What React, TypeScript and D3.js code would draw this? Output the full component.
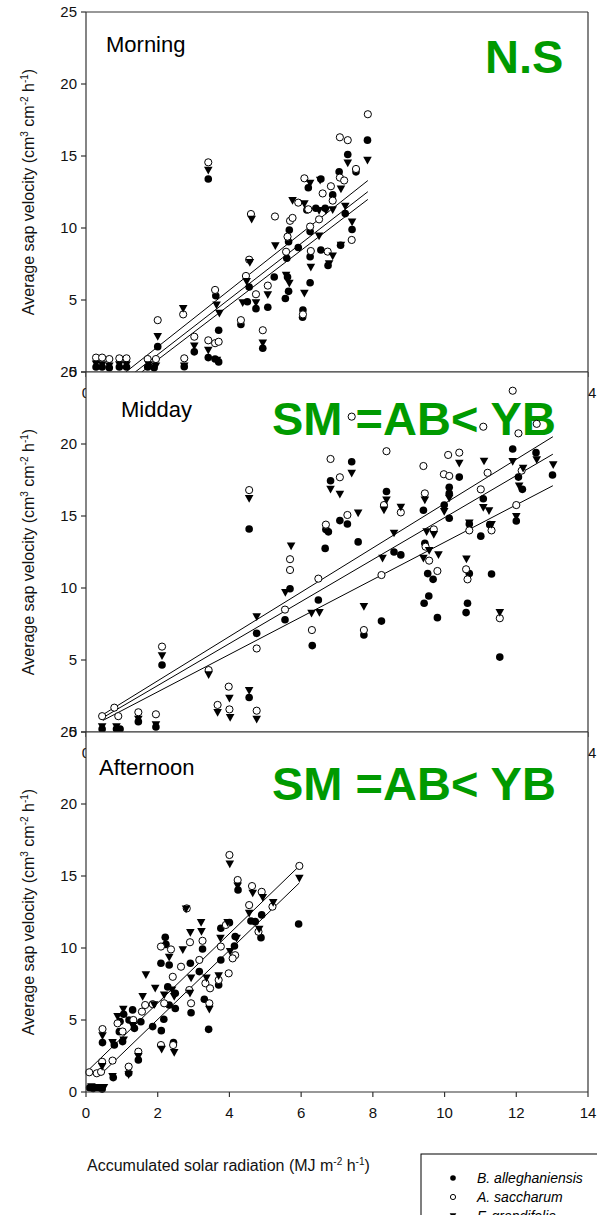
import React from "react";
import * as d3 from "d3";

type Pt = [number, number];
type Fit = { slope: number; intercept: number; x0: number; x1: number };

// ---------- data ----------
const xTicks = [0, 2, 4, 6, 8, 10, 12, 14];
const yTicks = [0, 5, 10, 15, 20, 25];
const speciesNames = ["B. alleghaniensis", "A. saccharum", "F. grandifolia"];
const panelTitles = ["Morning", "Midday", "Afternoon"];
const panelSignif = ["N.S", "SM =AB< YB", "SM =AB< YB"];

const morningYB: Pt[] = [[0.28,0.35],[0.45,0.35],[0.65,0.3],[0.93,0.35],[1.13,0.35],[1.72,0.35],[1.9,0.3],[2.0,1.76],[2.74,0.37],[3.02,1.4],[3.41,13.4],[3.41,1.0],[3.6,0.9],[3.7,0.7],[3.62,5.3],[3.7,2.9],[4.32,3.3],[4.55,5.9],[4.5,4.88],[4.74,4.4],[4.93,1.65],[5.07,4.5],[5.25,6.6],[5.6,7.9],[5.62,6.6],[5.65,5.6],[5.56,5.1],[5.67,9.86],[5.65,9.05],[5.92,8.65],[6.05,4.3],[6.04,3.8],[6.25,6.2],[6.25,8.0],[6.2,12.8],[6.55,13.4],[6.16,11.25],[6.41,11.37],[6.25,9.75],[6.55,8.47],[6.67,11.37],[6.75,7.4],[6.88,12.3],[7.85,16.1],[7.3,15.1],[7.53,13.9],[7.06,13.9],[7.23,11.0],[7.42,9.9],[7.1,8.8]];
const morningSM: Pt[] = [[0.28,1.0],[0.45,1.0],[0.65,0.9],[0.93,0.95],[1.13,0.95],[1.72,0.9],[1.95,0.9],[2.0,3.6],[2.71,4.0],[2.74,0.95],[3.02,2.45],[3.41,14.56],[3.41,2.2],[3.6,2.0],[3.7,2.1],[3.6,5.7],[4.32,3.6],[4.6,10.97],[4.55,7.8],[4.46,6.67],[4.74,5.4],[4.93,2.9],[5.07,6.0],[5.27,10.8],[5.58,8.35],[5.62,9.4],[5.69,10.5],[5.76,10.7],[5.92,11.76],[6.05,4.0],[6.27,8.4],[6.09,13.45],[6.6,12.4],[6.2,11.3],[6.25,10.1],[6.5,10.6],[6.74,8.36],[6.83,12.9],[6.88,11.9],[7.08,16.3],[7.3,16.1],[7.53,14.1],[7.08,13.5],[7.2,13.3],[7.41,9.17],[7.86,17.9]];
const morningAB: Pt[] = [[0.28,0.55],[0.45,0.5],[0.65,0.4],[0.93,0.5],[1.13,0.5],[1.75,0.5],[1.95,0.4],[2.0,2.45],[2.71,4.4],[2.74,0.4],[3.02,1.8],[3.41,14.0],[3.41,1.5],[3.65,0.8],[3.72,4.07],[3.64,4.65],[4.62,10.6],[4.57,7.6],[4.48,6.27],[4.37,4.8],[4.74,4.8],[4.93,2.0],[5.07,5.35],[5.28,8.75],[5.58,6.7],[5.67,6.15],[5.76,11.9],[6.09,11.67],[6.09,5.46],[6.25,13.1],[6.5,11.2],[6.5,9.44],[6.27,7.27],[6.88,8.05],[6.78,7.5],[6.88,11.25],[7.85,14.7],[7.3,14.5],[7.11,12.7],[7.23,11.5],[7.42,10.4],[7.11,8.8],[6.69,11.2],[6.53,13.3]];

const middayYB: Pt[] = [[0.45,0.2],[0.85,0.2],[0.95,0.2],[1.46,0.72],[1.95,0.35],[2.12,4.65],[4.55,14.1],[4.55,2.4],[4.76,6.85],[5.69,9.95],[5.55,7.8],[6.48,9.17],[6.31,6.0],[7.41,18.77],[6.82,17.45],[6.69,14.07],[6.76,13.9],[6.67,12.75],[7.08,14.68],[7.29,14.44],[7.59,13.2],[7.75,6.74],[8.24,7.7],[8.38,16.7],[8.59,12.5],[8.78,12.3],[9.41,15.4],[9.45,13.1],[9.53,11.0],[9.68,10.6],[9.56,9.44],[9.43,8.94],[9.8,7.94],[10.41,17.7],[10.13,17.0],[10.13,16.57],[9.99,15.76],[10.13,14.84],[10.69,14.44],[11.01,13.6],[11.26,14.4],[10.69,11.0],[11.31,10.97],[10.64,8.94],[10.6,8.29],[11.54,5.2],[11.08,16.2],[11.9,19.65],[12.06,17.7],[12.17,16.85],[12.0,14.65],[12.55,19.4],[13.01,17.85]];
const middaySM: Pt[] = [[0.45,1.1],[0.79,1.69],[0.9,1.1],[1.46,1.37],[1.95,1.23],[2.12,5.93],[3.42,4.3],[3.67,1.88],[3.98,3.15],[4.0,1.57],[4.55,16.8],[4.76,1.48],[4.76,5.8],[5.69,12.0],[5.69,11.25],[5.55,8.5],[6.48,10.65],[6.3,7.08],[6.82,18.96],[7.08,17.69],[7.41,21.9],[6.69,14.4],[7.29,15.07],[7.75,7.08],[8.38,19.5],[8.31,15.76],[8.24,10.9],[8.78,15.25],[9.41,18.47],[9.45,16.57],[9.47,12.87],[9.8,11.18],[9.57,11.9],[9.7,14.07],[10.1,19.24],[10.41,19.4],[9.98,17.9],[10.13,17.78],[11.08,21.2],[11.9,23.7],[12.06,20.74],[12.57,21.4],[11.2,18.0],[11.01,16.85],[10.69,14.0],[11.31,14.0],[10.6,11.3],[10.64,10.6],[11.54,7.9],[12.0,15.76],[12.15,18.15]];
const middayAB: Pt[] = [[0.45,0.35],[0.85,0.35],[1.46,0.88],[1.95,0.5],[2.12,5.28],[3.42,3.96],[3.67,1.34],[4.0,2.34],[4.02,1.0],[4.55,16.2],[4.55,2.87],[4.76,0.88],[4.76,8.0],[5.72,12.9],[5.56,9.68],[6.29,8.24],[6.51,8.29],[6.82,16.85],[7.41,17.96],[7.08,16.5],[7.59,15.2],[7.75,8.7],[8.38,16.1],[8.31,15.4],[8.59,13.8],[8.27,12.06],[8.78,15.6],[9.45,16.1],[9.41,12.06],[9.57,12.6],[9.5,13.9],[9.7,13.7],[9.83,12.3],[10.41,18.66],[10.13,16.23],[9.99,15.3],[11.1,18.8],[11.08,15.58],[11.24,15.35],[10.69,14.5],[11.31,14.4],[10.61,12.0],[11.54,8.29],[11.9,18.77],[12.08,17.08],[12.0,14.95],[12.57,18.9],[12.19,18.3],[13.03,18.54]];

const afternoonYB: Pt[] = [[0.1,0.3],[0.2,0.25],[0.35,0.3],[0.45,0.2],[0.46,3.43],[0.76,1.0],[0.79,3.26],[0.93,4.19],[1.02,3.5],[1.3,5.7],[1.35,4.42],[1.19,1.3],[1.46,2.22],[1.53,4.88],[1.86,4.54],[2.1,4.26],[2.17,5.05],[2.09,8.94],[2.21,10.74],[2.23,10.25],[2.32,8.82],[2.28,7.3],[2.49,6.85],[2.49,5.8],[2.32,6.04],[2.44,3.43],[2.91,8.94],[2.93,5.5],[3.25,9.93],[3.16,8.36],[3.3,6.44],[3.42,4.35],[3.7,7.43],[3.76,9.17],[3.76,11.37],[4.0,11.76],[4.14,10.14],[4.16,10.79],[4.24,14.03],[4.6,11.87],[4.72,11.83],[4.9,12.3],[4.88,10.72],[5.93,11.67],[1.2,5.0],[0.95,4.9],[1.05,5.4]];
const afternoonSM: Pt[] = [[0.09,1.37],[0.3,1.3],[0.42,1.4],[0.45,2.1],[0.46,4.37],[0.74,2.18],[0.88,4.77],[1.02,4.2],[1.32,5.0],[1.19,1.76],[1.46,2.8],[1.56,5.58],[1.65,6.04],[1.86,6.1],[2.09,3.26],[2.18,6.16],[2.09,10.1],[2.37,9.9],[2.42,8.0],[2.43,3.26],[2.65,8.7],[2.81,12.75],[2.9,10.4],[2.93,6.16],[2.88,7.08],[3.25,10.5],[3.16,9.17],[3.33,7.55],[3.46,7.2],[3.44,6.16],[3.7,7.78],[3.76,10.1],[3.98,8.24],[3.9,11.6],[4.16,9.5],[4.09,9.28],[4.0,16.46],[4.23,14.72],[4.55,12.98],[4.63,14.3],[4.9,13.9],[4.81,11.13],[5.2,12.87],[5.95,15.7]];
const afternoonAB: Pt[] = [[0.15,0.35],[0.3,0.3],[0.5,0.3],[0.45,1.76],[0.46,3.9],[0.74,3.43],[0.74,1.06],[0.88,5.23],[1.04,5.74],[1.19,1.18],[1.46,2.45],[1.58,6.62],[1.67,8.13],[1.93,7.2],[1.9,6.04],[2.11,2.96],[2.18,6.73],[2.32,9.35],[2.4,7.08],[2.46,6.62],[2.46,2.73],[2.7,9.86],[2.79,12.7],[2.91,11.06],[2.93,7.9],[2.9,6.85],[3.21,11.76],[3.22,11.13],[3.36,7.9],[3.44,5.74],[3.7,8.06],[3.75,10.67],[3.95,11.76],[4.2,10.67],[4.02,9.75],[4.01,15.83],[4.23,14.3],[4.55,12.4],[4.65,13.8],[4.93,13.5],[4.83,11.3],[5.22,13.15],[5.95,14.84],[1.3,4.6],[1.05,3.6]];

const morningFits: Fit[] = [
  { slope: 1.97, intercept: -2.19, x0: 1.11, x1: 7.86 },
  { slope: 1.93, intercept: -2.65, x0: 1.37, x1: 7.86 },
  { slope: 1.9, intercept: -2.95, x0: 1.55, x1: 7.86 },
];
const middayFits: Fit[] = [
  { slope: 1.538, intercept: 0.48, x0: 0.47, x1: 13.02 },
  { slope: 1.458, intercept: 0.31, x0: 0.47, x1: 13.02 },
  { slope: 1.299, intercept: 0.19, x0: 0.47, x1: 13.02 },
];
const afternoonFits: Fit[] = [
  { slope: 2.41, intercept: 1.36, x0: 0.1, x1: 5.95 },
  { slope: 2.4, intercept: 0.24, x0: 0.4, x1: 5.95 },
];

// ---------- layout ----------
const W = 597;
const H = 1215;
const LEFT = 86;
const RIGHT = 588;
const PANEL_H = 360;
const panelTops = [12, 372, 732];
const FONT = "'Liberation Sans', Arial, Helvetica, sans-serif";
const GREEN = "#009a00";
const AXIS = "#333";

const x = d3.scaleLinear().domain([0, 14]).range([LEFT, RIGHT]);

const triPath = (cx: number, cy: number, s: number) =>
  `M${cx - s},${cy - s * 0.85}L${cx + s},${cy - s * 0.85}L${cx},${cy + s * 0.95}Z`;

type PanelProps = {
  top: number;
  title: string;
  titleX: number;
  titleY: number;
  sig: string;
  sigX: number;
  sigY: number;
  yb: Pt[];
  sm: Pt[];
  ab: Pt[];
  fits: Fit[];
  showXLabels: boolean;
};

function Panel(p: PanelProps) {
  const bottom = p.top + PANEL_H;
  const y = d3.scaleLinear().domain([0, 25]).range([bottom, p.top]);
  const line = d3.line<Pt>().x((d) => x(d[0])).y((d) => y(d[1]));
  const midY = p.top + PANEL_H / 2;
  return (
    <g>
      <rect x={LEFT} y={p.top} width={RIGHT - LEFT} height={PANEL_H} fill="#fff" />
      <text x={p.sigX} y={p.sigY} fontFamily={FONT} fontWeight="bold" fontSize={47} fill={GREEN}>
        {p.sig}
      </text>
      <text x={p.titleX} y={p.titleY} fontFamily={FONT} fontSize={22} fill="#000">
        {p.title}
      </text>
      {p.fits.map((f, i) => (
        <path
          key={"f" + i}
          d={line([
            [f.x0, f.intercept + f.slope * f.x0],
            [f.x1, f.intercept + f.slope * f.x1],
          ]) || ""}
          stroke="#000"
          strokeWidth={1}
          fill="none"
        />
      ))}
      {p.yb.map((d, i) => (
        <circle key={"b" + i} cx={x(d[0])} cy={y(d[1])} r={3.8} fill="#000" />
      ))}
      {p.sm.map((d, i) => (
        <circle key={"s" + i} cx={x(d[0])} cy={y(d[1])} r={3.6} fill="#fff" stroke="#000" strokeWidth={1} />
      ))}
      {p.ab.map((d, i) => (
        <path key={"a" + i} d={triPath(x(d[0]), y(d[1]), 4.3)} fill="#000" />
      ))}
      {/* frame */}
      <line x1={LEFT} x2={LEFT} y1={p.top} y2={bottom} stroke={AXIS} strokeWidth={1.2} />
      <line x1={RIGHT} x2={RIGHT} y1={p.top} y2={bottom} stroke={AXIS} strokeWidth={1.2} />
      <line x1={LEFT} x2={RIGHT} y1={p.top} y2={p.top} stroke={AXIS} strokeWidth={1.2} />
      <line x1={LEFT} x2={RIGHT} y1={bottom} y2={bottom} stroke={AXIS} strokeWidth={1.2} />
      {yTicks.map((t) => (
        <g key={"yt" + t}>
          <line x1={LEFT - 5} x2={LEFT} y1={y(t)} y2={y(t)} stroke={AXIS} strokeWidth={1.2} />
          <text x={LEFT - 9} y={y(t) + 5} textAnchor="end" fontFamily={FONT} fontSize={15} fill="#111">
            {t}
          </text>
        </g>
      ))}
      {xTicks.map((t) => (
        <g key={"xt" + t}>
          <line x1={x(t)} x2={x(t)} y1={bottom} y2={bottom + 5} stroke={AXIS} strokeWidth={1.2} />
          <text x={x(t)} y={bottom + 26} textAnchor="middle" fontFamily={FONT} fontSize={15} fill="#111">
            {t}
          </text>
        </g>
      ))}
      <text
        transform={`translate(34,${midY}) rotate(-90)`}
        textAnchor="middle"
        fontFamily={FONT}
        fontSize={16}
        fill="#111"
      >
        Average sap velocity (cm
        <tspan dy={-6} fontSize={10}>3</tspan>
        <tspan dy={6}> cm</tspan>
        <tspan dy={-6} fontSize={10}>-2</tspan>
        <tspan dy={6}> h</tspan>
        <tspan dy={-6} fontSize={10}>-1</tspan>
        <tspan dy={6}>)</tspan>
      </text>
    </g>
  );
}

export default function App() {
  const titlePos = [
    { x: 106, y: 52 },
    { x: 121, y: 417 },
    { x: 99, y: 775 },
  ];
  const sigPos = [
    { x: 485, y: 73 },
    { x: 272, y: 435 },
    { x: 272, y: 800 },
  ];
  const data = [
    { yb: morningYB, sm: morningSM, ab: morningAB, fits: morningFits },
    { yb: middayYB, sm: middaySM, ab: middayAB, fits: middayFits },
    { yb: afternoonYB, sm: afternoonSM, ab: afternoonAB, fits: afternoonFits },
  ];
  const legendY = [1178, 1197, 1216];
  return (
    <svg
      width={W}
      height={H}
      viewBox={`0 0 ${W} ${H}`}
      style={{ position: "absolute", left: 0, top: 0, display: "block", background: "#fff" }}
    >
      <rect x={0} y={0} width={W} height={H} fill="#fff" />
      {panelTops.map((t, i) => (
        <Panel
          key={i}
          top={t}
          title={panelTitles[i]}
          titleX={titlePos[i].x}
          titleY={titlePos[i].y}
          sig={panelSignif[i]}
          sigX={sigPos[i].x}
          sigY={sigPos[i].y}
          yb={data[i].yb}
          sm={data[i].sm}
          ab={data[i].ab}
          fits={data[i].fits}
          showXLabels={i === 2}
        />
      ))}
      <text x={87} y={1171} fontFamily={FONT} fontSize={16} fill="#111">
        Accumulated solar radiation (MJ m
        <tspan dy={-6} fontSize={10}>-2</tspan>
        <tspan dy={6}> h</tspan>
        <tspan dy={-6} fontSize={10}>-1</tspan>
        <tspan dy={6}>)</tspan>
      </text>
      {/* legend */}
      <rect x={421} y={1154} width={200} height={100} fill="#fff" stroke="#000" strokeWidth={1} />
      <circle cx={453} cy={legendY[0]} r={2.8} fill="#000" />
      <circle cx={453} cy={legendY[1]} r={2.6} fill="#fff" stroke="#000" strokeWidth={1} />
      <path d={triPath(453, legendY[2], 3.3)} fill="#000" />
      {speciesNames.map((s, i) => (
        <text key={s} x={477} y={legendY[i] + 5} fontFamily={FONT} fontStyle="italic" fontSize={14} fill="#000">
          {s}
        </text>
      ))}
    </svg>
  );
}
